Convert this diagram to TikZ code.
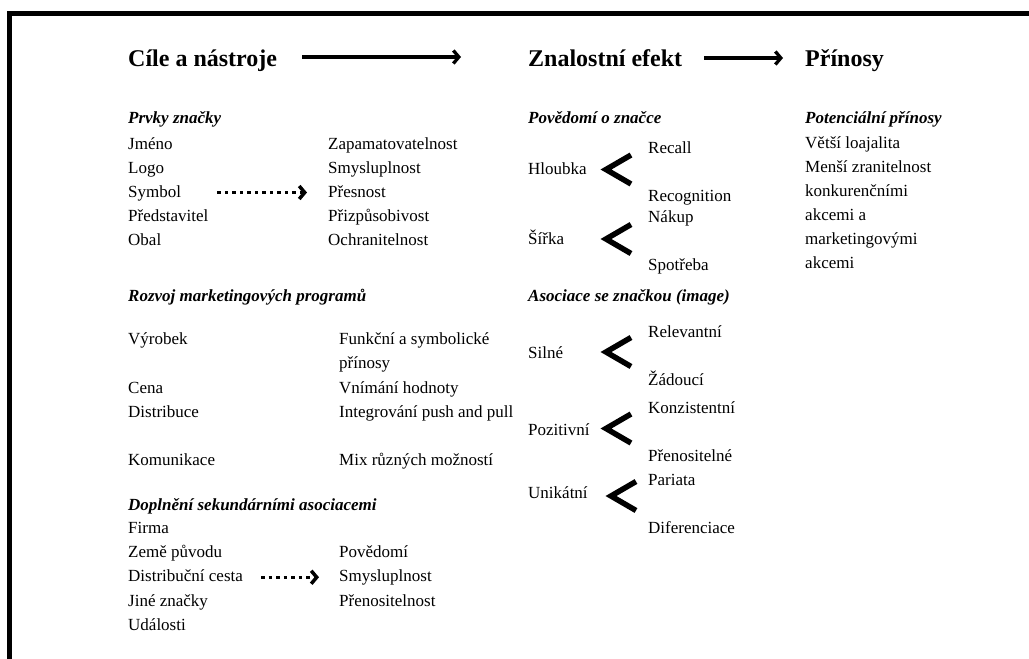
\documentclass[tikz,border=0pt]{standalone}
\usepackage{fontspec}
\setmainfont{Liberation Serif}
\usetikzlibrary{arrows.meta, positioning}

\tikzset{
  item/.style={anchor=base west, inner sep=0pt, font=\fontsize{17}{20}\selectfont},
  subhead/.style={item, font=\fontsize{17}{20}\selectfont\bfseries\itshape},
  head/.style={anchor=base west, inner sep=0pt, font=\fontsize{24}{28}\selectfont\bfseries},
  headarrow/.style={line width=3.3pt, -{Straight Barb[length=5.5pt,width=13pt]}},
  dotarrow/.style={line width=3.5pt, dash pattern=on 3.5pt off 4pt,
                   -{Straight Barb[length=5.5pt,width=13pt]}},
  fork/.style={line width=5.5pt, miter limit=10},
}

\begin{document}
\begin{tikzpicture}[x=1pt, y=-1pt]
  \useasboundingbox (0,0) rectangle (1029,659);
  \draw[line width=5pt] (9.5,659) -- (9.5,13.5) -- (1029,13.5);

  % column 1
  \node[head] (cile) at (128,66) {Cíle a nástroje};
  \node[subhead] (prvky) at (128,123) {Prvky značky};
  \foreach \t [count=\i] in {Jméno,Logo,Symbol,Představitel,Obal}
    \node[item] (pl\i) at (128,125+24*\i) {\t};
  \foreach \t [count=\i] in {Zapamatovatelnost,Smysluplnost,Přesnost,Přizpůsobivost,Ochranitelnost}
    \node[item] (pr\i) at (328,125+24*\i) {\t};
  \draw[dotarrow] ([xshift=36pt,yshift=4.5pt]pl3.base east) -- ([xshift=-21pt,yshift=4.5pt]pr3.base west);

  \node[subhead] (rozvoj) at (128,301) {Rozvoj marketingových programů};
  \foreach \t/\y [count=\i] in {Výrobek/344,Cena/393,Distribuce/417,Komunikace/465}
    \node[item] (mx\i) at (128,\y) {\t};
  \foreach \t/\y [count=\i] in {Funkční a symbolické/344,přínosy/368,Vnímání hodnoty/393,Integrování push and pull/417,Mix různých možností/465}
    \node[item] (mv\i) at (339,\y) {\t};

  \node[subhead] (dopl) at (128,510) {Doplnění sekundárními asociacemi};
  \foreach \t [count=\i] in {Firma,Země původu,Distribuční cesta,Jiné značky,Události}
    \node[item] (sa\i) at (128,509+24.25*\i) {\t};
  \foreach \t [count=\i] in {Povědomí,Smysluplnost,Přenositelnost}
    \node[item] (sb\i) at (339,533.25+24.25*\i) {\t};
  \draw[dotarrow] ([xshift=18pt,yshift=4.5pt]sa3.base east) -- ([xshift=-20pt,yshift=4.5pt]sb2.base west);

  % column 2
  \node[head] (znal) at (528,66) {Znalostní efekt};
  \node[subhead] (povedomi) at (528,123) {Povědomí o značce};
  \node[item] (hloubka) at (528,174) {Hloubka};
  \node[item] (recall) at (648,153) {Recall};
  \node[item] (recog) at (648,201) {Recognition};
  \node[item] (sirka) at (528,244) {Šířka};
  \node[item] (nakup) at (648,222) {Nákup};
  \node[item] (spotr) at (648,270) {Spotřeba};

  \node[subhead] (asoc) at (528,301) {Asociace se značkou (image)};
  \node[item] (silne) at (528,358) {Silné};
  \node[item] (relev) at (648,337) {Relevantní};
  \node[item] (zad) at (648,385) {Žádoucí};
  \node[item] (pozit) at (528,435) {Pozitivní};
  \node[item] (konz) at (648,413) {Konzistentní};
  \node[item] (pren) at (648,461) {Přenositelné};
  \node[item] (unik) at (528,498) {Unikátní};
  \node[item] (par) at (648,485) {Pariata};
  \node[item] (dif) at (648,533) {Diferenciace};

  \foreach \x/\y in {600/169.5,600/239,600/352,600/428.5,605/496}
    \draw[fork] (\x+31,\y-14.5) -- (\x+6,\y) -- (\x+31,\y+14.5);

  % column 3
  \node[head] (prin) at (805,66) {Přínosy};
  \node[subhead] (potenc) at (805,123) {Potenciální přínosy};
  \foreach \t [count=\i] in {Větší loajalita,Menší zranitelnost,konkurenčními,akcemi a,marketingovými,akcemi}
    \node[item] (pp\i) at (805,124+24*\i) {\t};

  \draw[headarrow] ([xshift=25pt,yshift=9pt]cile.base east) -- ([xshift=-67pt,yshift=9pt]znal.base west);
  \draw[headarrow] ([xshift=22pt,yshift=8pt]znal.base east) -- ([xshift=-22pt,yshift=8pt]prin.base west);
\end{tikzpicture}
\end{document}
